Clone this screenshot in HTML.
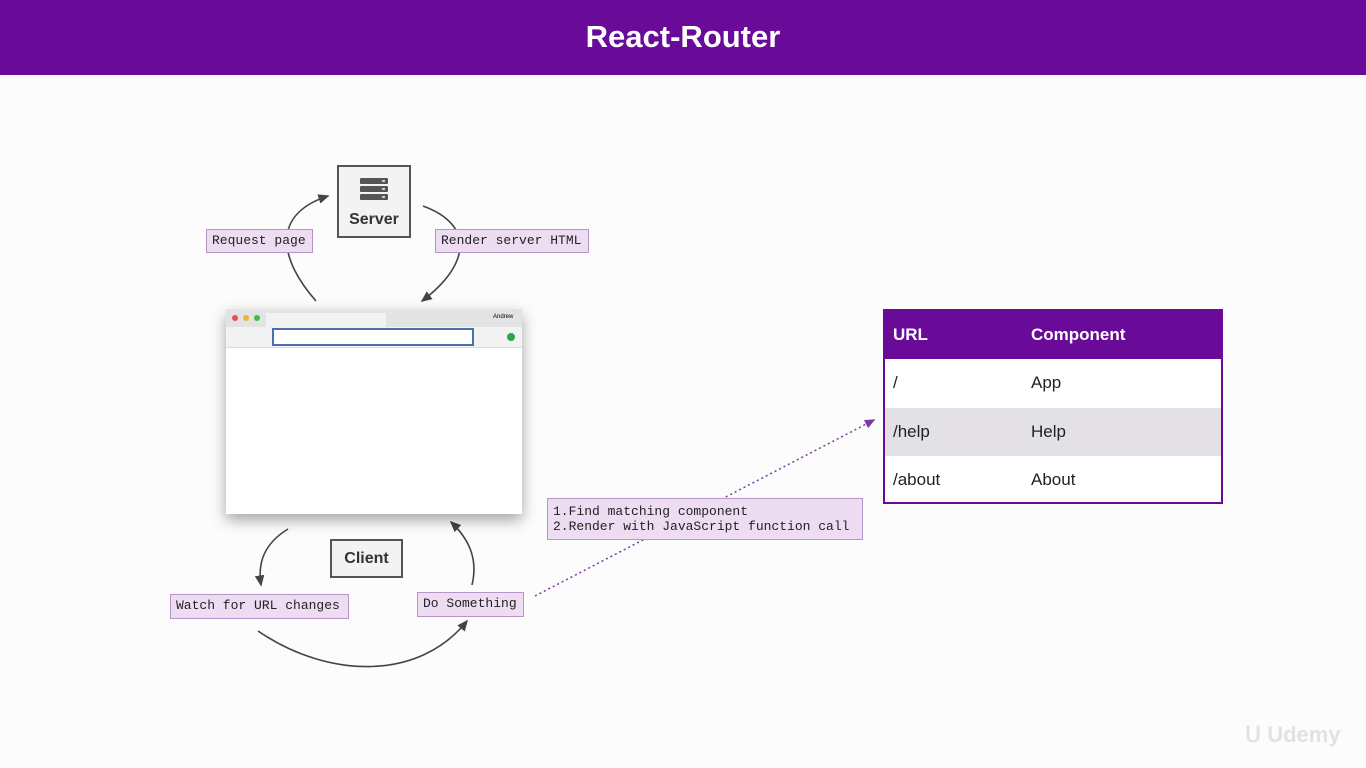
<!DOCTYPE html>
<html><head><meta charset="utf-8"><style>
body{margin:0;width:1366px;height:768px;background:#fcfcfd;position:relative;overflow:hidden;font-family:"Liberation Sans",sans-serif}
.hdr{position:absolute;left:0;top:0;width:1366px;height:75px;background:#6a0a99;color:#fff;font-size:31px;font-weight:bold;text-align:center;line-height:74px}
.lbl{position:absolute;background:#eedcf2;border:1.5px solid #b895c8;font-family:"Liberation Mono",monospace;font-size:13px;color:#222;padding:0 5px;box-sizing:border-box;line-height:22px;white-space:pre}
.box{position:absolute;border:2px solid #555;background:#f5f2f5;box-sizing:border-box;font-weight:bold;color:#333;text-align:center}
.tbl{position:absolute;left:883px;top:309px;width:340px;height:195px;border:2px solid #6a0a99;box-sizing:border-box;background:#fff}
.row{position:absolute;left:0;width:336px;height:48px;font-size:17px;line-height:48px;color:#222}
.row span{position:absolute}
</style></head><body>
<div class="hdr">React-Router</div>
<svg width="1366" height="768" style="position:absolute;left:0;top:0">
<defs><marker id="a" markerWidth="8" markerHeight="8" refX="6" refY="4" orient="auto"><path d="M0,1 L7,4 L0,7z" fill="#444"/></marker>
<marker id="b" markerWidth="8" markerHeight="8" refX="6" refY="4" orient="auto"><path d="M0,1 L7,4 L0,7z" fill="#7a3aa0"/></marker></defs>
<g fill="none" stroke="#444" stroke-width="1.6">
<path d="M316,301 C280,260 270,215 328,196" marker-end="url(#a)"/>
<path d="M423,206 C475,225 470,265 422,301" marker-end="url(#a)"/>
<path d="M288,529 C262,545 258,565 261,585" marker-end="url(#a)"/>
<path d="M472,585 C478,560 470,540 451,522" marker-end="url(#a)"/>
<path d="M258,631 C330,680 420,680 467,621" marker-end="url(#a)"/>
</g>
<path d="M535,596 L874,420" stroke="#7a3aa0" stroke-width="1.5" stroke-dasharray="2,3" fill="none" marker-end="url(#b)"/>
</svg>
<div class="box" style="left:337px;top:165px;width:74px;height:73px;font-size:16px;padding-top:44px">Server</div>
<svg style="position:absolute;left:360px;top:178px" width="28" height="24"><g fill="#555"><rect x="0" y="0" width="28" height="6" rx="1"/><rect x="0" y="8" width="28" height="6" rx="1"/><rect x="0" y="16" width="28" height="6" rx="1"/></g><g fill="#ccc"><rect x="22" y="2" width="3" height="2"/><rect x="22" y="10" width="3" height="2"/><rect x="22" y="18" width="3" height="2"/></g></svg>
<div class="lbl" style="left:206px;top:229px;width:107px;height:24px">Request page</div>
<div class="lbl" style="left:435px;top:229px;width:154px;height:24px">Render server HTML</div>
<div style="position:absolute;left:226px;top:309px;width:296px;height:205px;background:#fff;box-shadow:0 6px 14px rgba(0,0,0,.35)">
<div style="height:18px;background:#e3e3e3"></div>
<div style="height:20px;background:#f2f2f2;border-bottom:1px solid #ddd"></div>
<div style="position:absolute;left:6px;top:6px;width:6px;height:6px;border-radius:3px;background:#ec4d4d"></div>
<div style="position:absolute;left:17px;top:6px;width:6px;height:6px;border-radius:3px;background:#f0b530"></div>
<div style="position:absolute;left:28px;top:6px;width:6px;height:6px;border-radius:3px;background:#3ebd4a"></div>
<div style="position:absolute;left:40px;top:4px;width:120px;height:14px;background:#f2f2f2"></div>
<div style="position:absolute;left:267px;top:5px;font-size:6px">Andrew</div>
<div style="position:absolute;left:46px;top:19px;width:202px;height:18px;border:2px solid #4a70b0;box-sizing:border-box;background:#fff"></div>
<div style="position:absolute;left:281px;top:24px;width:8px;height:8px;border-radius:5px;background:#28a745"></div>
</div>
<div class="box" style="left:330px;top:539px;width:73px;height:39px;font-size:16px;line-height:35px">Client</div>
<div class="lbl" style="left:170px;top:594px;width:179px;height:25px">Watch for URL changes</div>
<div class="lbl" style="left:417px;top:592px;width:107px;height:25px">Do Something</div>
<div class="lbl" style="left:547px;top:498px;width:316px;height:42px;line-height:15px;padding-top:5px">1.Find matching component
2.Render with JavaScript function call</div>
<div class="tbl">
<div class="row" style="top:0;background:#6a0a99;color:#fff;font-weight:bold"><span style="left:8px">URL</span><span style="left:146px">Component</span></div>
<div class="row" style="top:48px"><span style="left:8px">/</span><span style="left:146px">App</span></div>
<div class="row" style="top:97px;background:#e3e1e6"><span style="left:8px">/help</span><span style="left:146px">Help</span></div>
<div class="row" style="top:145px"><span style="left:8px">/about</span><span style="left:146px">About</span></div>
</div>
<div style="position:absolute;left:1245px;top:722px;font-size:22px;font-weight:bold;color:#e2e2e2">ᑌ Udemy</div>
</body></html>
